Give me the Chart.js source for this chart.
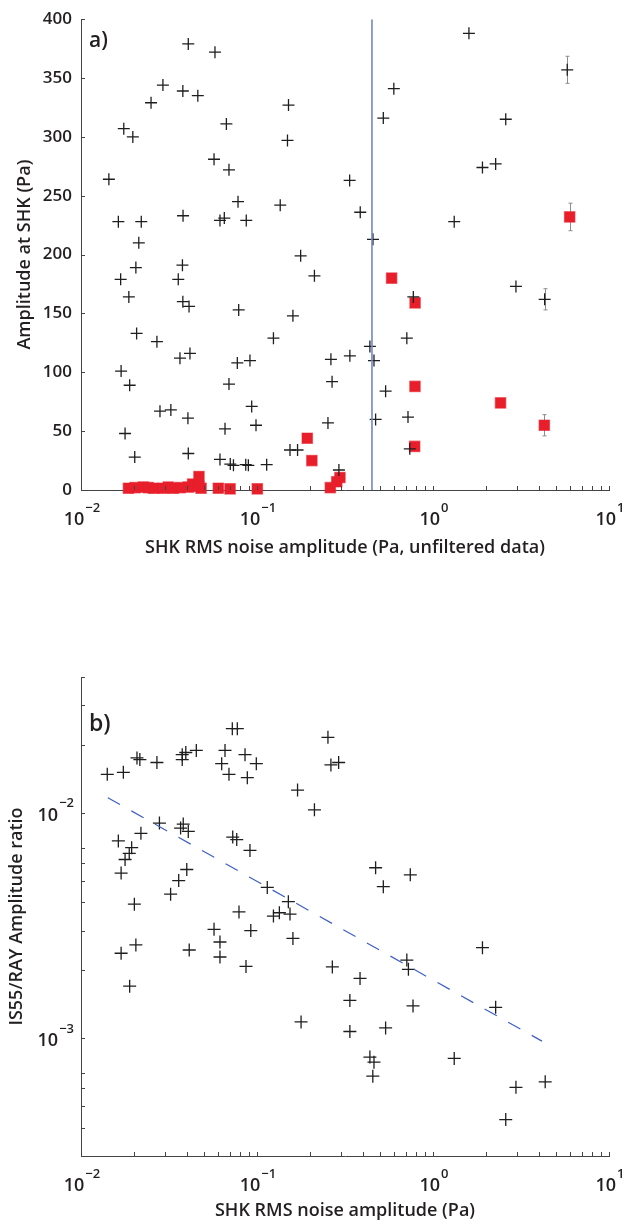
<!DOCTYPE html>
<html>
<head>
<meta charset="utf-8">
<script src="https://cdn.jsdelivr.net/npm/chart.js@4"></script>
<style>
  html, body { margin: 0; padding: 0; background: #fff; }
  body { width: 624px; height: 1230px; position: relative; overflow: hidden; }
  canvas { position: absolute; left: 0; }
  #chartA { top: 0; }
  #chartB { top: 600px; }
</style>
</head>
<body>
<canvas id="chartA" width="624" height="600"></canvas>
<canvas id="chartB" width="624" height="630"></canvas>
<script>
// panel a) amplitude at SHK vs noise, black = all, red = selected
const aBlackX = [0.0407, 0.0577, 0.0292, 0.0379, 0.0461, 0.025, 0.151, 0.0175, 0.0197, 0.067,
  0.149, 0.057, 0.0693, 0.0144, 0.078, 0.1355, 0.0163, 0.022, 0.038, 0.0616,
  0.0652, 0.0869, 0.0213, 0.177, 1.60, 5.79, 0.599, 0.522, 2.59, 1.91,
  2.27, 0.336, 0.386, 1.32, 0.456, 0.0168, 0.0205, 0.0357, 0.0377, 0.0187,
  0.0379, 0.0411, 0.0787, 0.160, 0.212, 0.0207, 0.027, 0.124, 0.0365, 0.0416,
  0.0773, 0.0912, 0.0169, 0.0189, 0.0693, 0.0933, 0.0281, 0.0324, 0.0405, 0.0658,
  0.0987, 0.0178, 0.0407, 0.0202, 0.0616, 0.0705, 0.0735, 0.0863, 0.0893, 0.1135,
  0.154, 0.170, 0.773, 2.96, 4.31, 0.710, 0.438, 0.337, 0.263, 0.462,
  0.267, 0.538, 0.253, 0.472, 0.721, 0.738, 0.292];
const aBlackY = [379, 372, 344, 339, 335, 329, 327, 307, 300, 311,
  297, 281, 272, 264, 245, 242, 228, 228, 233, 229,
  231, 229, 210, 199, 388, 357, 341, 316, 315, 274,
  277, 263, 236, 228, 213, 179, 189, 179, 191, 164,
  160, 156, 153, 148, 182, 133, 126, 129, 112, 116,
  108, 110, 101, 89, 90, 71, 67, 68, 61, 52,
  55, 48, 31, 28, 26, 22, 21, 21.5, 21, 21.5,
  34, 34, 164, 173, 162, 129, 122, 114, 111, 110,
  92, 84, 57, 60, 62, 35, 17];
const aRedX = [0.582, 0.791, 0.79, 2.42, 4.29, 0.193, 0.205, 0.787, 0.296, 0.284,
  0.261, 5.98, 0.0186, 0.0203, 0.0226, 0.0241, 0.0258, 0.0293, 0.0313, 0.0334,
  0.0365, 0.0407, 0.0431, 0.0468, 0.0468, 0.0481, 0.0603, 0.0703, 0.1004];
const aRedY = [180, 159, 88, 74, 55, 44, 25, 37, 10.6, 7,
  2, 232, 1.5, 2, 2.5, 2, 1.5, 1.5, 2.5, 1.5,
  2, 2.5, 5, 11.5, 3, 1.5, 1.5, 1, 1];
const errX = [5.79, 4.31, 5.98, 4.29];
const errY = [357, 162, 232, 55];
const errSize = [11.5, 9, 11.7, 9];
const thresholdX = 0.45;
const aYMax = 400;

// panel b) IS55/RAY amplitude ratio vs noise, with fitted trend
const bX = [0.0724, 0.0773, 0.0141, 0.0174, 0.0208, 0.0216, 0.027, 0.0376, 0.0394, 0.0376,
  0.0452, 0.0658, 0.063, 0.0855, 0.0991, 0.0693, 0.0881, 0.170, 0.212, 0.253,
  0.263, 0.291, 0.472, 0.743, 0.522, 0.0279, 0.0368, 0.0381, 0.0407, 0.0163,
  0.0219, 0.0194, 0.0188, 0.0178, 0.0169, 0.0728, 0.0767, 0.0912, 0.0399, 0.0359,
  0.0323, 0.0201, 0.1144, 0.079, 0.1507, 0.124, 0.134, 0.154, 0.057, 0.0922,
  0.160, 0.0866, 0.268, 0.385, 0.337, 0.0169, 0.0205, 0.0412, 0.0616, 0.0616,
  0.0189, 0.178, 1.91, 0.710, 0.725, 0.770, 2.27, 0.337, 0.538, 0.438,
  0.462, 0.455, 1.32, 2.96, 4.34, 2.59];
const bY = [0.0236, 0.0236, 0.0148, 0.0151, 0.0175, 0.0172, 0.0167, 0.0181, 0.0185, 0.0172,
  0.0189, 0.0189, 0.0165, 0.0181, 0.0165, 0.0148, 0.0143, 0.0126, 0.0103, 0.0216,
  0.0163, 0.0167, 0.0057, 0.0053, 0.0047, 0.0090, 0.00855, 0.0089, 0.00826, 0.0075,
  0.0081, 0.0070, 0.0066, 0.0062, 0.0054, 0.0078, 0.0076, 0.0068, 0.0056, 0.0050,
  0.00435, 0.00393, 0.00466, 0.00363, 0.00403, 0.00348, 0.0036, 0.00355, 0.00304, 0.0030,
  0.00277, 0.00208, 0.00207, 0.00184, 0.00147, 0.00238, 0.00259, 0.00246, 0.00267, 0.00229,
  0.0017, 0.00118, 0.00252, 0.00222, 0.00202, 0.00139, 0.00137, 0.00107, 0.00111, 0.000824,
  0.000782, 0.000678, 0.000813, 0.000605, 0.00064, 0.000435];
const fitX = [0.0142, 4.16];
const fitY = [0.01166, 0.00097];

const FONT = "'Open Sans', 'DejaVu Sans', sans-serif";
const INK = '#231f20';

Chart.defaults.font.family = FONT;
Chart.defaults.color = INK;

function toPts(xs, ys) {
  return xs.map((x, i) => ({ x: x, y: ys[i] }));
}

function mantissa(v) {
  const e = Math.floor(Math.log10(v) + 1e-9);
  return v / Math.pow(10, e);
}

// inward tick marks, 10^n labels, error bars and the panel letter
const axisDecor = {
  id: 'axisDecor',
  beforeDatasetsDraw(chart, args, opts) {
    if (!opts.err) return;
    const { x, y } = chart.scales;
    const ctx = chart.ctx;
    ctx.save();
    ctx.strokeStyle = '#8c8c8c';
    ctx.lineWidth = 1;
    opts.err.x.forEach((v, i) => {
      const px = Math.round(x.getPixelForValue(v)) + 0.5;
      const top = y.getPixelForValue(opts.err.y[i] + opts.err.e[i]);
      const bot = y.getPixelForValue(opts.err.y[i] - opts.err.e[i]);
      ctx.beginPath();
      ctx.moveTo(px, top); ctx.lineTo(px, bot);
      ctx.moveTo(px - 2, top); ctx.lineTo(px + 2, top);
      ctx.moveTo(px - 2, bot); ctx.lineTo(px + 2, bot);
      ctx.stroke();
    });
    ctx.restore();
  },
  afterDraw(chart, args, opts) {
    const ctx = chart.ctx;
    const area = chart.chartArea;
    ctx.save();
    ctx.strokeStyle = '#444';
    ctx.lineWidth = 1;
    ['x', 'y'].forEach(id => {
      const s = chart.scales[id];
      s.ticks.forEach(t => {
        if (s.type === 'logarithmic') {
          const m = mantissa(t.value);
          if (Math.abs(m - Math.round(m)) > 1e-6) return;
          if (id === 'y' && opts.skipMinor && opts.skipMinor.includes(Math.round(m))) return;
        }
        const p = Math.round(s.getPixelForValue(t.value)) + 0.5;
        ctx.beginPath();
        if (id === 'x') { ctx.moveTo(p, area.bottom); ctx.lineTo(p, area.bottom - 4); }
        else { ctx.moveTo(area.left, p); ctx.lineTo(area.left + 4, p); }
        ctx.stroke();
      });
    });

    ctx.fillStyle = INK;
    ctx.textBaseline = 'middle';
    ctx.textAlign = 'left';
    ['x', 'y'].forEach(id => {
      const s = chart.scales[id];
      if (s.type !== 'logarithmic') return;
      s.ticks.forEach(t => {
        if (Math.abs(mantissa(t.value) - 1) > 1e-6) return;
        const e = Math.round(Math.log10(t.value));
        const expTxt = e < 0 ? '\u2212' + (-e) : String(e);
        const p = s.getPixelForValue(t.value);
        ctx.font = '600 18px ' + FONT;
        const wb = ctx.measureText('10').width;
        ctx.font = '600 13px ' + FONT;
        const we = ctx.measureText(expTxt).width;
        let x0, yb, ye;
        if (id === 'x') {
          x0 = p - (wb + we + 1) / 2 + 1;
          yb = area.bottom + 30;
          ye = area.bottom + 18;
        } else {
          x0 = area.left - 7 - wb - we - 1;
          yb = p + 3;
          ye = p - 9;
        }
        ctx.font = '600 18px ' + FONT;
        ctx.fillText('10', x0, yb);
        ctx.font = '600 13px ' + FONT;
        ctx.fillText(expTxt, x0 + wb + 1, ye);
      });
    });

    if (opts.letter) {
      ctx.font = '600 ' + opts.letterSize + 'px ' + FONT;
      ctx.fillText(opts.letter, area.left + 8, area.top + opts.letterDy);
    }
    ctx.restore();
  }
};

const titleFont = { size: 18, weight: '600' };
const plusStyle = {
  pointStyle: 'cross',
  borderColor: '#1e1e1e',
  borderWidth: 1.3,
  backgroundColor: '#1e1e1e'
};

// panel a)
new Chart(document.getElementById('chartA').getContext('2d'), {
  type: 'scatter',
  data: {
    datasets: [
      {
        type: 'line',
        data: [{ x: thresholdX, y: 0 }, { x: thresholdX, y: aYMax }],
        borderColor: '#7385c6',
        borderWidth: 1.6,
        pointRadius: 0
      },
      Object.assign({ data: toPts(aBlackX, aBlackY), pointRadius: 6 }, plusStyle),
      {
        data: toPts(aRedX, aRedY),
        clip: false,
        pointStyle: 'rect',
        pointRadius: 7.4,
        backgroundColor: '#e81f2b',
        borderColor: 'rgba(232,31,43,0.55)',
        borderWidth: 1.2
      }
    ]
  },
  options: {
    responsive: false,
    animation: false,
    layout: { padding: { left: 14, right: 15, top: 12, bottom: 41 } },
    plugins: {
      legend: { display: false },
      tooltip: { enabled: false },
      axisDecor: {
        letter: 'a)', letterSize: 21, letterDy: 22,
        err: { x: errX, y: errY, e: errSize }
      }
    },
    scales: {
      x: {
        type: 'logarithmic',
        min: 0.01,
        max: 10,
        grid: { display: false, drawTicks: false },
        border: { color: '#444', width: 1 },
        ticks: { display: false },
        title: { display: true, text: 'SHK RMS noise amplitude (Pa, unfiltered data)', font: titleFont, padding: 0 },
        afterFit(s) { s.height = 69; }
      },
      y: {
        min: 0,
        max: aYMax,
        grid: { display: false, drawTicks: false },
        border: { color: '#444', width: 1 },
        ticks: { stepSize: 50, padding: 9, autoSkip: false, font: { size: 17, weight: '600' } },
        title: { display: true, text: 'Amplitude at SHK (Pa)', font: titleFont, padding: 0 },
        afterFit(s) { s.width = 67; }
      }
    }
  },
  plugins: [axisDecor]
});

// panel b)
new Chart(document.getElementById('chartB').getContext('2d'), {
  type: 'scatter',
  data: {
    datasets: [
      {
        type: 'line',
        data: toPts(fitX, fitY),
        borderColor: '#3d5fc4',
        borderWidth: 1.2,
        borderDash: [14, 13],
        pointRadius: 0
      },
      Object.assign({ data: toPts(bX, bY), pointRadius: 6.5 }, plusStyle)
    ]
  },
  options: {
    responsive: false,
    animation: false,
    layout: { padding: { left: 6, right: 15, top: 77, bottom: 8 } },
    plugins: {
      legend: { display: false },
      tooltip: { enabled: false },
      axisDecor: { letter: 'b)', letterSize: 23, letterDy: 47, skipMinor: [8, 9] }
    },
    scales: {
      x: {
        type: 'logarithmic',
        min: 0.01,
        max: 10,
        grid: { display: false, drawTicks: false },
        border: { color: '#444', width: 1 },
        ticks: { display: false },
        title: { display: true, text: 'SHK RMS noise amplitude (Pa)', font: titleFont, padding: 0 },
        afterFit(s) { s.height = 66; }
      },
      y: {
        type: 'logarithmic',
        min: 0.0003,
        max: 0.04,
        grid: { display: false, drawTicks: false },
        border: { color: '#444', width: 1 },
        ticks: { display: false },
        title: { display: true, text: 'IS55/RAY Amplitude ratio', font: titleFont, padding: 0 },
        afterFit(s) { s.width = 75; }
      }
    }
  },
  plugins: [axisDecor]
});
</script>
</body>
</html>
